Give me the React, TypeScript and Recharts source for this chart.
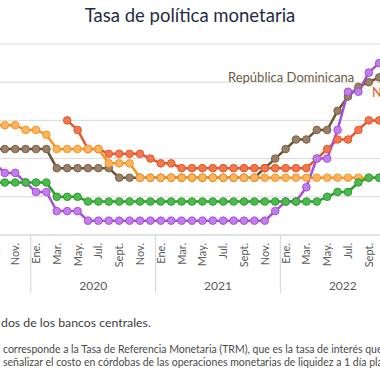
import React from 'react';
import { LineChart, Line, XAxis, YAxis, CartesianGrid } from 'recharts';

// one entry per month, Sept. 2019 .. Dic. 2022 (the axis itself starts in Ene. 2019)
const months = [
  'Sept.', 'Oct.', 'Nov.', 'Dic.',
  'Ene.', 'Feb.', 'Mar.', 'Abr.', 'May.', 'Jun.', 'Jul.', 'Ago.', 'Sept.', 'Oct.', 'Nov.', 'Dic.',
  'Ene.', 'Feb.', 'Mar.', 'Abr.', 'May.', 'Jun.', 'Jul.', 'Ago.', 'Sept.', 'Oct.', 'Nov.', 'Dic.',
  'Ene.', 'Feb.', 'Mar.', 'Abr.', 'May.', 'Jun.', 'Jul.', 'Ago.', 'Sept.', 'Oct.', 'Nov.', 'Dic.',
];
const years = ['2019', '2020', '2021', '2022'];
const shownMonths = ['Ene.', 'Mar.', 'May.', 'Jul.', 'Sept.', 'Nov.'];
const monthsBefore = 8; // Ene.–Ago. 2019 are on the axis but outside the crop

const honduras = [
  5.75, 5.75, 5.75, 5.5,
  5.5, 5.25, 4.5, 4.5, 4.5, 4.5, 4.5, 3.75, 3.75, 3.75, 3.0, 3.0,
  3.0, 3.0, 3.0, 3.0, 3.0, 3.0, 3.0, 3.0, 3.0, 3.0, 3.0, 3.0,
  3.0, 3.0, 3.0, 3.0, 3.0, 3.0, 3.0, 3.0, 3.0, 3.0, 3.0, 3.0,
];
const repDominicana = [
  4.5, 4.5, 4.5, 4.5,
  4.5, 4.5, 3.5, 3.5, 3.5, 3.5, 3.5, 3.5, 3.0, 3.0, 3.0, 3.0,
  3.0, 3.0, 3.0, 3.0, 3.0, 3.0, 3.0, 3.0, 3.0, 3.0, 3.5, 4.0,
  4.5, 5.0, 5.0, 5.5, 5.5, 6.5, 7.25, 7.75, 8.0, 8.25, 8.5, 8.5,
];
const nicaragua = [
  null, null, null, null,
  null, null, null, 6.0, 5.5, 4.5, 4.5, 4.25, 4.25, 4.25, 4.25, 4.0,
  3.75, 3.75, 3.5, 3.5, 3.5, 3.5, 3.5, 3.5, 3.5, 3.5, 3.5, 3.5,
  3.5, 3.5, 3.5, 4.0, 4.5, 5.0, 5.0, 5.5, 6.0, 6.0, 6.5, 7.0,
];
const guatemala = [
  2.75, 2.75, 2.75, 2.75,
  2.75, 2.75, 2.0, 2.0, 2.0, 1.75, 1.75, 1.75, 1.75, 1.75, 1.75, 1.75,
  1.75, 1.75, 1.75, 1.75, 1.75, 1.75, 1.75, 1.75, 1.75, 1.75, 1.75, 1.75,
  1.75, 1.75, 1.75, 1.75, 2.0, 2.25, 2.25, 2.75, 3.0, 3.0, 3.75, 3.75,
];
const costaRica = [
  3.75, 3.25, 3.25, 2.75,
  2.25, 2.25, 1.25, 1.25, 1.25, 0.75, 0.75, 0.75, 0.75, 0.75, 0.75, 0.75,
  0.75, 0.75, 0.75, 0.75, 0.75, 0.75, 0.75, 0.75, 0.75, 0.75, 0.75, 1.25,
  1.75, 1.75, 2.5, 4.0, 4.0, 5.5, 7.5, 7.5, 8.5, 9.0, 9.0, 9.0,
];

const data = months.map((m, i) => ({
  idx: i,
  mes: m,
  hon: honduras[i],
  rd: repDominicana[i],
  nic: nicaragua[i],
  gua: guatemala[i],
  cr: costaRica[i],
}));

const domainX: [number, number] = [-0.5 - monthsBefore, months.length - 0.5];
const monthTicks = months.map((m, i) => (shownMonths.includes(m) ? i : -1)).filter((i) => i >= 0);
const yearBounds = months.map((m, i) => (m === 'Ene.' ? i - 0.5 : null)).filter((v) => v !== null) as number[];
const allBounds = [domainX[0], ...yearBounds, domainX[1]];
const yearCenters = years.map((_, k) => (allBounds[k] + allBounds[k + 1]) / 2);

const MonthTick = (props: any) => {
  const { x, y, payload } = props;
  return (
    <text
      x={x + 4}
      y={y + 8}
      transform={`rotate(-90, ${x + 4}, ${y + 8})`}
      textAnchor="end"
      fontSize={11}
      fill="#5a5a5a"
      fontFamily="Lato"
    >
      {months[payload.value]}
    </text>
  );
};

const YearTick = (props: any) => {
  const { x, y, payload } = props;
  if (yearBounds.includes(payload.value)) {
    return <line x1={x} x2={x} y1={y - 41} y2={y + 17} stroke="#d6d6d6" strokeWidth={1} />;
  }
  const k = yearCenters.indexOf(payload.value);
  return (
    <text x={x} y={y + 14} textAnchor="middle" fontSize={12} fill="#5a5a5a" fontFamily="Lato">
      {years[k]}
    </text>
  );
};

const dotStyle = (fill: string, stroke: string) => ({ r: 3.8, fill, stroke, strokeWidth: 1 });

export default function App() {
  return (
    <div
      style={{
        position: 'fixed',
        left: 0,
        top: 0,
        width: 380,
        height: 380,
        overflow: 'hidden',
        background: '#fff',
        fontFamily: 'Lato, sans-serif',
      }}
    >
      <div
        style={{
          position: 'absolute',
          top: 6,
          left: 0,
          width: 380,
          textAlign: 'center',
          fontSize: 18.5,
          lineHeight: '18px',
          color: '#1f2d45',
        }}
      >
        Tasa de política monetaria
      </div>

      <div style={{ position: 'absolute', left: -10.9 - monthsBefore * 10.4, top: 0 }}>
        <LineChart
          width={416 + monthsBefore * 10.4}
          height={300}
          data={data}
          margin={{ top: 44, right: 0, left: 0, bottom: 0 }}
        >
          <CartesianGrid xAxisId="m" vertical={false} stroke="#dadada" />
          <XAxis
            xAxisId="m"
            dataKey="idx"
            type="number"
            domain={domainX}
            ticks={monthTicks}
            interval={0}
            tick={<MonthTick />}
            tickLine={false}
            tickSize={0}
            tickMargin={0}
            axisLine={{ stroke: '#dadada' }}
            height={41}
          />
          <XAxis
            xAxisId="y"
            dataKey="idx"
            type="number"
            domain={domainX}
            ticks={[...yearBounds, ...yearCenters]}
            interval={0}
            tick={<YearTick />}
            tickLine={false}
            tickSize={0}
            tickMargin={0}
            axisLine={false}
            height={24}
          />
          <YAxis hide domain={[0, 10]} ticks={[0, 1, 2, 3, 4, 5, 6, 7, 8, 9, 10]} />
          <Line xAxisId="m" dataKey="rd" stroke="#6e5233" strokeWidth={2.5} dot={dotStyle('#9b8069', '#7a5f45')} isAnimationActive={false} />
          <Line xAxisId="m" dataKey="nic" stroke="#e5562b" strokeWidth={2.5} dot={dotStyle('#f0784c', '#e5562b')} isAnimationActive={false} />
          <Line xAxisId="m" dataKey="hon" stroke="#f7931e" strokeWidth={2.5} dot={dotStyle('#fcb461', '#f7931e')} isAnimationActive={false} />
          <Line xAxisId="m" dataKey="cr" stroke="#a64fd6" strokeWidth={2.5} dot={dotStyle('#c57cec', '#a64fd6')} isAnimationActive={false} />
          <Line xAxisId="m" dataKey="gua" stroke="#2b9c2f" strokeWidth={2.5} dot={dotStyle('#4dbb4b', '#2b9c2f')} isAnimationActive={false} />
        </LineChart>
      </div>

      <div style={{ position: 'absolute', left: 228, top: 69, fontSize: 13, color: '#6e5a44', whiteSpace: 'nowrap' }}>
        República Dominicana
      </div>
      <div style={{ position: 'absolute', left: 372, top: 84, fontSize: 13, color: '#e5562b', whiteSpace: 'nowrap' }}>
        Nicaragua
      </div>

      <div style={{ position: 'absolute', left: 1, top: 315, fontSize: 12.3, color: '#3c3c3c', whiteSpace: 'nowrap' }}>
        dos de los bancos centrales.
      </div>
      <div style={{ position: 'absolute', left: 3, top: 343, fontSize: 10.5, lineHeight: '13px', color: '#4a4a4a', whiteSpace: 'nowrap' }}>
        <div>corresponde a la Tasa de Referencia Monetaria (TRM), que es la tasa de interés que</div>
        <div>señalizar el costo en córdobas de las operaciones monetarias de liquidez a 1 día plazo</div>
      </div>
    </div>
  );
}
